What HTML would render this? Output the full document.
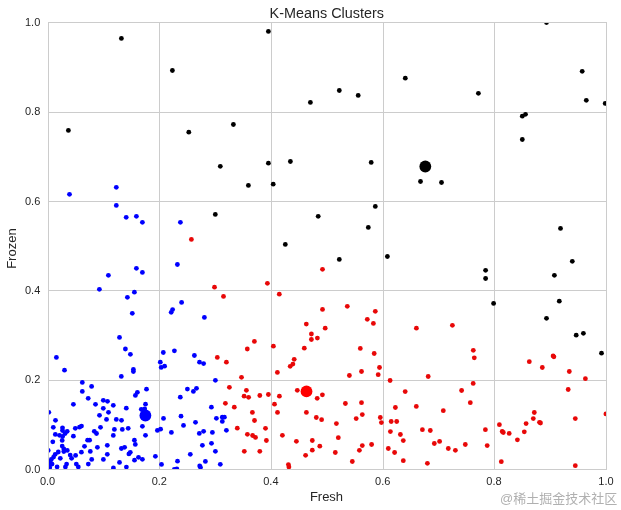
<!DOCTYPE html>
<html><head><meta charset="utf-8"><title>K-Means Clusters</title>
<style>
html,body{margin:0;padding:0;background:#fff;}
body{width:621px;height:510px;overflow:hidden;position:relative;}
svg{position:absolute;left:0;top:0;display:block;will-change:transform;}
text{font-family:"Liberation Sans",Arial,sans-serif;fill:#262626;}
.wm{position:absolute;left:499.8px;top:488px;font:13px "Liberation Sans","Noto Sans CJK SC",sans-serif;color:#b0b0b0;white-space:nowrap;letter-spacing:0px;text-shadow:0 0 1px #fff;will-change:transform;}
</style></head><body>
<svg width="621" height="510" viewBox="0 0 621 510">
<defs><clipPath id="ax"><rect x="48.5" y="22.5" width="558" height="447"/></clipPath></defs>

<g stroke="#cccccc" stroke-width="1" shape-rendering="crispEdges"><line x1="159.5" y1="22.5" x2="159.5" y2="469.5"/><line x1="271.5" y1="22.5" x2="271.5" y2="469.5"/><line x1="383.5" y1="22.5" x2="383.5" y2="469.5"/><line x1="494.5" y1="22.5" x2="494.5" y2="469.5"/><line x1="48.5" y1="112.5" x2="606.5" y2="112.5"/><line x1="48.5" y1="201.5" x2="606.5" y2="201.5"/><line x1="48.5" y1="290.5" x2="606.5" y2="290.5"/><line x1="48.5" y1="380.5" x2="606.5" y2="380.5"/></g>
<g clip-path="url(#ax)"><circle cx="69.5" cy="194.3" r="2.4" fill="#0000ff"/><circle cx="116.3" cy="187.3" r="2.4" fill="#0000ff"/><circle cx="116.3" cy="205.4" r="2.4" fill="#0000ff"/><circle cx="126.2" cy="217.3" r="2.4" fill="#0000ff"/><circle cx="136.4" cy="216.3" r="2.4" fill="#0000ff"/><circle cx="142.4" cy="222.3" r="2.4" fill="#0000ff"/><circle cx="180.4" cy="222.3" r="2.4" fill="#0000ff"/><circle cx="108.4" cy="275.3" r="2.4" fill="#0000ff"/><circle cx="136.4" cy="268.3" r="2.4" fill="#0000ff"/><circle cx="142.4" cy="272.4" r="2.4" fill="#0000ff"/><circle cx="99.4" cy="289.3" r="2.4" fill="#0000ff"/><circle cx="134.4" cy="292.2" r="2.4" fill="#0000ff"/><circle cx="127.4" cy="297.3" r="2.4" fill="#0000ff"/><circle cx="132.3" cy="313.3" r="2.4" fill="#0000ff"/><circle cx="177.4" cy="264.5" r="2.4" fill="#0000ff"/><circle cx="181.6" cy="302.4" r="2.4" fill="#0000ff"/><circle cx="172.6" cy="309.6" r="2.4" fill="#0000ff"/><circle cx="171.2" cy="312.3" r="2.4" fill="#0000ff"/><circle cx="119.5" cy="337.4" r="2.4" fill="#0000ff"/><circle cx="125.4" cy="349.0" r="2.4" fill="#0000ff"/><circle cx="174.4" cy="350.8" r="2.4" fill="#0000ff"/><circle cx="204.4" cy="317.4" r="2.4" fill="#0000ff"/><circle cx="194.4" cy="355.5" r="2.4" fill="#0000ff"/><circle cx="199.5" cy="362.2" r="2.4" fill="#0000ff"/><circle cx="203.6" cy="363.6" r="2.4" fill="#0000ff"/><circle cx="215.4" cy="380.3" r="2.4" fill="#0000ff"/><circle cx="187.4" cy="389.1" r="2.4" fill="#0000ff"/><circle cx="193.4" cy="391.4" r="2.4" fill="#0000ff"/><circle cx="196.5" cy="388.3" r="2.4" fill="#0000ff"/><circle cx="180.3" cy="397.2" r="2.4" fill="#0000ff"/><circle cx="211.4" cy="407.2" r="2.4" fill="#0000ff"/><circle cx="181.0" cy="416.2" r="2.4" fill="#0000ff"/><circle cx="183.5" cy="425.4" r="2.4" fill="#0000ff"/><circle cx="195.5" cy="422.3" r="2.4" fill="#0000ff"/><circle cx="216.4" cy="418.3" r="2.4" fill="#0000ff"/><circle cx="222.3" cy="417.2" r="2.4" fill="#0000ff"/><circle cx="224.4" cy="417.2" r="2.4" fill="#0000ff"/><circle cx="222.3" cy="421.4" r="2.4" fill="#0000ff"/><circle cx="226.4" cy="430.3" r="2.4" fill="#0000ff"/><circle cx="199.3" cy="433.4" r="2.4" fill="#0000ff"/><circle cx="203.6" cy="431.3" r="2.4" fill="#0000ff"/><circle cx="212.4" cy="432.4" r="2.4" fill="#0000ff"/><circle cx="202.4" cy="445.3" r="2.4" fill="#0000ff"/><circle cx="211.5" cy="443.3" r="2.4" fill="#0000ff"/><circle cx="215.4" cy="451.3" r="2.4" fill="#0000ff"/><circle cx="190.3" cy="454.3" r="2.4" fill="#0000ff"/><circle cx="205.4" cy="461.4" r="2.4" fill="#0000ff"/><circle cx="199.7" cy="466.0" r="2.4" fill="#0000ff"/><circle cx="200.5" cy="467.4" r="2.4" fill="#0000ff"/><circle cx="220.3" cy="464.3" r="2.4" fill="#0000ff"/><circle cx="56.4" cy="357.4" r="2.4" fill="#0000ff"/><circle cx="64.5" cy="370.2" r="2.4" fill="#0000ff"/><circle cx="121.3" cy="376.4" r="2.4" fill="#0000ff"/><circle cx="82.3" cy="382.4" r="2.4" fill="#0000ff"/><circle cx="91.6" cy="386.4" r="2.4" fill="#0000ff"/><circle cx="82.3" cy="391.4" r="2.4" fill="#0000ff"/><circle cx="88.2" cy="398.3" r="2.4" fill="#0000ff"/><circle cx="73.4" cy="404.3" r="2.4" fill="#0000ff"/><circle cx="95.5" cy="404.3" r="2.4" fill="#0000ff"/><circle cx="103.3" cy="400.3" r="2.4" fill="#0000ff"/><circle cx="107.5" cy="401.3" r="2.4" fill="#0000ff"/><circle cx="113.3" cy="405.3" r="2.4" fill="#0000ff"/><circle cx="103.3" cy="408.3" r="2.4" fill="#0000ff"/><circle cx="130.4" cy="354.3" r="2.4" fill="#0000ff"/><circle cx="133.4" cy="369.5" r="2.4" fill="#0000ff"/><circle cx="133.4" cy="371.6" r="2.4" fill="#0000ff"/><circle cx="163.3" cy="352.5" r="2.4" fill="#0000ff"/><circle cx="160.3" cy="362.2" r="2.4" fill="#0000ff"/><circle cx="161.2" cy="367.4" r="2.4" fill="#0000ff"/><circle cx="164.6" cy="366.2" r="2.4" fill="#0000ff"/><circle cx="146.5" cy="389.2" r="2.4" fill="#0000ff"/><circle cx="137.4" cy="392.3" r="2.4" fill="#0000ff"/><circle cx="135.4" cy="395.4" r="2.4" fill="#0000ff"/><circle cx="145.5" cy="404.2" r="2.4" fill="#0000ff"/><circle cx="126.3" cy="408.2" r="2.4" fill="#0000ff"/><circle cx="141.3" cy="409.3" r="2.4" fill="#0000ff"/><circle cx="144.7" cy="408.9" r="2.4" fill="#0000ff"/><circle cx="48.8" cy="412.3" r="2.4" fill="#0000ff"/><circle cx="55.5" cy="420.3" r="2.4" fill="#0000ff"/><circle cx="53.3" cy="427.3" r="2.4" fill="#0000ff"/><circle cx="62.5" cy="427.8" r="2.4" fill="#0000ff"/><circle cx="62.5" cy="430.5" r="2.4" fill="#0000ff"/><circle cx="67.2" cy="431.3" r="2.4" fill="#0000ff"/><circle cx="65.1" cy="433.5" r="2.4" fill="#0000ff"/><circle cx="55.3" cy="434.4" r="2.4" fill="#0000ff"/><circle cx="59.5" cy="435.3" r="2.4" fill="#0000ff"/><circle cx="62.6" cy="436.4" r="2.4" fill="#0000ff"/><circle cx="75.3" cy="428.3" r="2.4" fill="#0000ff"/><circle cx="79.5" cy="427.2" r="2.4" fill="#0000ff"/><circle cx="81.5" cy="426.1" r="2.4" fill="#0000ff"/><circle cx="73.4" cy="436.2" r="2.4" fill="#0000ff"/><circle cx="52.8" cy="441.8" r="2.4" fill="#0000ff"/><circle cx="62.2" cy="440.4" r="2.4" fill="#0000ff"/><circle cx="62.2" cy="446.1" r="2.4" fill="#0000ff"/><circle cx="63.8" cy="448.9" r="2.4" fill="#0000ff"/><circle cx="63.8" cy="451.6" r="2.4" fill="#0000ff"/><circle cx="67.3" cy="450.4" r="2.4" fill="#0000ff"/><circle cx="58.3" cy="452.0" r="2.4" fill="#0000ff"/><circle cx="55.2" cy="454.3" r="2.4" fill="#0000ff"/><circle cx="53.6" cy="457.1" r="2.4" fill="#0000ff"/><circle cx="51.3" cy="459.4" r="2.4" fill="#0000ff"/><circle cx="50.1" cy="461.8" r="2.4" fill="#0000ff"/><circle cx="49.7" cy="464.9" r="2.4" fill="#0000ff"/><circle cx="49.7" cy="467.7" r="2.4" fill="#0000ff"/><circle cx="52.1" cy="464.1" r="2.4" fill="#0000ff"/><circle cx="48.2" cy="450.4" r="2.4" fill="#0000ff"/><circle cx="60.3" cy="458.3" r="2.4" fill="#0000ff"/><circle cx="70.2" cy="455.1" r="2.4" fill="#0000ff"/><circle cx="71.6" cy="458.3" r="2.4" fill="#0000ff"/><circle cx="75.6" cy="455.4" r="2.4" fill="#0000ff"/><circle cx="81.4" cy="452.2" r="2.4" fill="#0000ff"/><circle cx="84.5" cy="446.3" r="2.4" fill="#0000ff"/><circle cx="87.6" cy="440.2" r="2.4" fill="#0000ff"/><circle cx="89.6" cy="440.2" r="2.4" fill="#0000ff"/><circle cx="90.3" cy="451.4" r="2.4" fill="#0000ff"/><circle cx="66.6" cy="464.1" r="2.4" fill="#0000ff"/><circle cx="65.4" cy="466.9" r="2.4" fill="#0000ff"/><circle cx="57.1" cy="466.9" r="2.4" fill="#0000ff"/><circle cx="76.3" cy="464.1" r="2.4" fill="#0000ff"/><circle cx="78.3" cy="466.9" r="2.4" fill="#0000ff"/><circle cx="88.3" cy="464.1" r="2.4" fill="#0000ff"/><circle cx="108.5" cy="412.3" r="2.4" fill="#0000ff"/><circle cx="99.5" cy="415.3" r="2.4" fill="#0000ff"/><circle cx="106.5" cy="419.4" r="2.4" fill="#0000ff"/><circle cx="116.3" cy="419.4" r="2.4" fill="#0000ff"/><circle cx="121.5" cy="420.3" r="2.4" fill="#0000ff"/><circle cx="100.5" cy="427.3" r="2.4" fill="#0000ff"/><circle cx="94.3" cy="431.3" r="2.4" fill="#0000ff"/><circle cx="96.5" cy="433.5" r="2.4" fill="#0000ff"/><circle cx="114.4" cy="429.4" r="2.4" fill="#0000ff"/><circle cx="122.3" cy="429.4" r="2.4" fill="#0000ff"/><circle cx="128.2" cy="428.3" r="2.4" fill="#0000ff"/><circle cx="113.3" cy="435.4" r="2.4" fill="#0000ff"/><circle cx="97.4" cy="447.3" r="2.4" fill="#0000ff"/><circle cx="107.3" cy="445.3" r="2.4" fill="#0000ff"/><circle cx="121.4" cy="448.5" r="2.4" fill="#0000ff"/><circle cx="124.6" cy="447.3" r="2.4" fill="#0000ff"/><circle cx="128.9" cy="453.9" r="2.4" fill="#0000ff"/><circle cx="107.3" cy="454.3" r="2.4" fill="#0000ff"/><circle cx="91.7" cy="459.4" r="2.4" fill="#0000ff"/><circle cx="103.4" cy="459.4" r="2.4" fill="#0000ff"/><circle cx="119.5" cy="462.4" r="2.4" fill="#0000ff"/><circle cx="113.4" cy="468.0" r="2.4" fill="#0000ff"/><circle cx="126.4" cy="467.1" r="2.4" fill="#0000ff"/><circle cx="163.5" cy="418.4" r="2.4" fill="#0000ff"/><circle cx="142.4" cy="426.3" r="2.4" fill="#0000ff"/><circle cx="145.5" cy="435.3" r="2.4" fill="#0000ff"/><circle cx="157.4" cy="430.4" r="2.4" fill="#0000ff"/><circle cx="160.6" cy="429.2" r="2.4" fill="#0000ff"/><circle cx="171.4" cy="432.4" r="2.4" fill="#0000ff"/><circle cx="134.4" cy="440.2" r="2.4" fill="#0000ff"/><circle cx="135.3" cy="444.4" r="2.4" fill="#0000ff"/><circle cx="130.3" cy="452.3" r="2.4" fill="#0000ff"/><circle cx="138.5" cy="457.3" r="2.4" fill="#0000ff"/><circle cx="134.5" cy="460.2" r="2.4" fill="#0000ff"/><circle cx="142.4" cy="459.3" r="2.4" fill="#0000ff"/><circle cx="155.4" cy="456.3" r="2.4" fill="#0000ff"/><circle cx="161.5" cy="464.4" r="2.4" fill="#0000ff"/><circle cx="177.5" cy="461.2" r="2.4" fill="#0000ff"/><circle cx="174.3" cy="469.4" r="2.4" fill="#0000ff"/><circle cx="176.8" cy="468.8" r="2.4" fill="#0000ff"/><circle cx="191.4" cy="239.4" r="2.4" fill="#e80808"/><circle cx="322.5" cy="269.3" r="2.4" fill="#e80808"/><circle cx="267.4" cy="283.3" r="2.4" fill="#e80808"/><circle cx="214.5" cy="287.2" r="2.4" fill="#e80808"/><circle cx="223.5" cy="296.4" r="2.4" fill="#e80808"/><circle cx="279.3" cy="294.2" r="2.4" fill="#e80808"/><circle cx="322.5" cy="309.4" r="2.4" fill="#e80808"/><circle cx="306.3" cy="324.1" r="2.4" fill="#e80808"/><circle cx="325.2" cy="328.2" r="2.4" fill="#e80808"/><circle cx="311.4" cy="334.0" r="2.4" fill="#e80808"/><circle cx="311.4" cy="339.5" r="2.4" fill="#e80808"/><circle cx="317.4" cy="338.1" r="2.4" fill="#e80808"/><circle cx="254.4" cy="341.4" r="2.4" fill="#e80808"/><circle cx="273.4" cy="346.2" r="2.4" fill="#e80808"/><circle cx="247.3" cy="349.0" r="2.4" fill="#e80808"/><circle cx="304.3" cy="348.2" r="2.4" fill="#e80808"/><circle cx="347.3" cy="306.3" r="2.4" fill="#e80808"/><circle cx="375.3" cy="311.3" r="2.4" fill="#e80808"/><circle cx="367.3" cy="319.3" r="2.4" fill="#e80808"/><circle cx="373.4" cy="323.4" r="2.4" fill="#e80808"/><circle cx="416.4" cy="328.2" r="2.4" fill="#e80808"/><circle cx="452.4" cy="325.3" r="2.4" fill="#e80808"/><circle cx="360.3" cy="348.4" r="2.4" fill="#e80808"/><circle cx="473.3" cy="350.3" r="2.4" fill="#e80808"/><circle cx="474.3" cy="357.8" r="2.4" fill="#e80808"/><circle cx="529.3" cy="361.7" r="2.4" fill="#e80808"/><circle cx="553.1" cy="355.9" r="2.4" fill="#e80808"/><circle cx="553.9" cy="356.8" r="2.4" fill="#e80808"/><circle cx="542.3" cy="367.5" r="2.4" fill="#e80808"/><circle cx="569.3" cy="371.5" r="2.4" fill="#e80808"/><circle cx="585.4" cy="378.7" r="2.4" fill="#e80808"/><circle cx="473.2" cy="383.4" r="2.4" fill="#e80808"/><circle cx="461.6" cy="390.5" r="2.4" fill="#e80808"/><circle cx="568.2" cy="389.5" r="2.4" fill="#e80808"/><circle cx="470.3" cy="402.7" r="2.4" fill="#e80808"/><circle cx="534.3" cy="412.5" r="2.4" fill="#e80808"/><circle cx="533.3" cy="418.6" r="2.4" fill="#e80808"/><circle cx="539.5" cy="422.3" r="2.4" fill="#e80808"/><circle cx="540.5" cy="423.0" r="2.4" fill="#e80808"/><circle cx="575.3" cy="418.6" r="2.4" fill="#e80808"/><circle cx="605.9" cy="413.9" r="2.4" fill="#e80808"/><circle cx="499.4" cy="424.7" r="2.4" fill="#e80808"/><circle cx="526.1" cy="423.6" r="2.4" fill="#e80808"/><circle cx="502.2" cy="431.5" r="2.4" fill="#e80808"/><circle cx="503.3" cy="432.5" r="2.4" fill="#e80808"/><circle cx="509.2" cy="433.4" r="2.4" fill="#e80808"/><circle cx="524.3" cy="431.8" r="2.4" fill="#e80808"/><circle cx="517.4" cy="439.8" r="2.4" fill="#e80808"/><circle cx="485.4" cy="429.7" r="2.4" fill="#e80808"/><circle cx="465.3" cy="444.5" r="2.4" fill="#e80808"/><circle cx="487.2" cy="445.6" r="2.4" fill="#e80808"/><circle cx="501.3" cy="461.7" r="2.4" fill="#e80808"/><circle cx="575.3" cy="465.7" r="2.4" fill="#e80808"/><circle cx="374.2" cy="353.5" r="2.4" fill="#e80808"/><circle cx="379.5" cy="367.5" r="2.4" fill="#e80808"/><circle cx="361.5" cy="371.5" r="2.4" fill="#e80808"/><circle cx="349.4" cy="375.5" r="2.4" fill="#e80808"/><circle cx="378.2" cy="374.7" r="2.4" fill="#e80808"/><circle cx="390.1" cy="380.5" r="2.4" fill="#e80808"/><circle cx="428.2" cy="376.5" r="2.4" fill="#e80808"/><circle cx="322.4" cy="394.8" r="2.4" fill="#e80808"/><circle cx="405.2" cy="391.6" r="2.4" fill="#e80808"/><circle cx="345.4" cy="403.5" r="2.4" fill="#e80808"/><circle cx="361.5" cy="402.7" r="2.4" fill="#e80808"/><circle cx="395.4" cy="407.5" r="2.4" fill="#e80808"/><circle cx="416.3" cy="406.4" r="2.4" fill="#e80808"/><circle cx="443.3" cy="410.7" r="2.4" fill="#e80808"/><circle cx="321.6" cy="419.7" r="2.4" fill="#e80808"/><circle cx="356.2" cy="418.6" r="2.4" fill="#e80808"/><circle cx="362.3" cy="414.6" r="2.4" fill="#e80808"/><circle cx="336.4" cy="423.6" r="2.4" fill="#e80808"/><circle cx="380.3" cy="417.5" r="2.4" fill="#e80808"/><circle cx="381.4" cy="422.6" r="2.4" fill="#e80808"/><circle cx="391.2" cy="421.5" r="2.4" fill="#e80808"/><circle cx="396.7" cy="421.5" r="2.4" fill="#e80808"/><circle cx="390.4" cy="431.6" r="2.4" fill="#e80808"/><circle cx="400.4" cy="434.5" r="2.4" fill="#e80808"/><circle cx="403.3" cy="440.6" r="2.4" fill="#e80808"/><circle cx="422.4" cy="429.7" r="2.4" fill="#e80808"/><circle cx="430.3" cy="430.5" r="2.4" fill="#e80808"/><circle cx="338.3" cy="437.7" r="2.4" fill="#e80808"/><circle cx="319.8" cy="446.2" r="2.4" fill="#e80808"/><circle cx="362.3" cy="445.6" r="2.4" fill="#e80808"/><circle cx="371.6" cy="444.5" r="2.4" fill="#e80808"/><circle cx="359.4" cy="450.3" r="2.4" fill="#e80808"/><circle cx="335.3" cy="452.5" r="2.4" fill="#e80808"/><circle cx="388.3" cy="448.5" r="2.4" fill="#e80808"/><circle cx="394.6" cy="452.5" r="2.4" fill="#e80808"/><circle cx="434.3" cy="443.5" r="2.4" fill="#e80808"/><circle cx="439.6" cy="441.4" r="2.4" fill="#e80808"/><circle cx="448.3" cy="448.5" r="2.4" fill="#e80808"/><circle cx="455.4" cy="450.3" r="2.4" fill="#e80808"/><circle cx="352.3" cy="461.5" r="2.4" fill="#e80808"/><circle cx="403.3" cy="460.7" r="2.4" fill="#e80808"/><circle cx="427.4" cy="463.3" r="2.4" fill="#e80808"/><circle cx="217.3" cy="357.4" r="2.4" fill="#e80808"/><circle cx="226.4" cy="362.2" r="2.4" fill="#e80808"/><circle cx="241.5" cy="377.3" r="2.4" fill="#e80808"/><circle cx="229.4" cy="387.3" r="2.4" fill="#e80808"/><circle cx="246.4" cy="390.3" r="2.4" fill="#e80808"/><circle cx="244.1" cy="396.2" r="2.4" fill="#e80808"/><circle cx="248.6" cy="397.3" r="2.4" fill="#e80808"/><circle cx="259.8" cy="395.5" r="2.4" fill="#e80808"/><circle cx="225.4" cy="403.3" r="2.4" fill="#e80808"/><circle cx="234.3" cy="407.2" r="2.4" fill="#e80808"/><circle cx="294.2" cy="359.3" r="2.4" fill="#e80808"/><circle cx="290.2" cy="366.3" r="2.4" fill="#e80808"/><circle cx="292.9" cy="364.1" r="2.4" fill="#e80808"/><circle cx="277.4" cy="372.4" r="2.4" fill="#e80808"/><circle cx="297.3" cy="390.3" r="2.4" fill="#e80808"/><circle cx="317.2" cy="398.3" r="2.4" fill="#e80808"/><circle cx="268.4" cy="394.5" r="2.4" fill="#e80808"/><circle cx="279.4" cy="396.2" r="2.4" fill="#e80808"/><circle cx="274.5" cy="404.2" r="2.4" fill="#e80808"/><circle cx="252.4" cy="412.4" r="2.4" fill="#e80808"/><circle cx="254.5" cy="420.5" r="2.4" fill="#e80808"/><circle cx="237.3" cy="428.2" r="2.4" fill="#e80808"/><circle cx="247.4" cy="434.3" r="2.4" fill="#e80808"/><circle cx="252.6" cy="435.5" r="2.4" fill="#e80808"/><circle cx="255.5" cy="437.4" r="2.4" fill="#e80808"/><circle cx="244.3" cy="451.3" r="2.4" fill="#e80808"/><circle cx="259.8" cy="451.3" r="2.4" fill="#e80808"/><circle cx="277.5" cy="412.4" r="2.4" fill="#e80808"/><circle cx="265.5" cy="428.3" r="2.4" fill="#e80808"/><circle cx="266.4" cy="440.5" r="2.4" fill="#e80808"/><circle cx="282.4" cy="435.3" r="2.4" fill="#e80808"/><circle cx="296.4" cy="441.3" r="2.4" fill="#e80808"/><circle cx="306.4" cy="412.4" r="2.4" fill="#e80808"/><circle cx="316.3" cy="417.5" r="2.4" fill="#e80808"/><circle cx="312.3" cy="440.5" r="2.4" fill="#e80808"/><circle cx="312.3" cy="450.2" r="2.4" fill="#e80808"/><circle cx="305.6" cy="455.3" r="2.4" fill="#e80808"/><circle cx="288.4" cy="464.6" r="2.4" fill="#e80808"/><circle cx="288.9" cy="467.0" r="2.4" fill="#e80808"/><circle cx="121.4" cy="38.4" r="2.4" fill="#000000"/><circle cx="172.4" cy="70.5" r="2.4" fill="#000000"/><circle cx="68.4" cy="130.4" r="2.4" fill="#000000"/><circle cx="188.8" cy="132.2" r="2.4" fill="#000000"/><circle cx="268.4" cy="31.4" r="2.4" fill="#000000"/><circle cx="310.4" cy="102.4" r="2.4" fill="#000000"/><circle cx="233.4" cy="124.5" r="2.4" fill="#000000"/><circle cx="339.3" cy="90.5" r="2.4" fill="#000000"/><circle cx="358.2" cy="95.4" r="2.4" fill="#000000"/><circle cx="405.3" cy="78.2" r="2.4" fill="#000000"/><circle cx="546.5" cy="22.6" r="2.4" fill="#000000"/><circle cx="582.2" cy="71.3" r="2.4" fill="#000000"/><circle cx="478.4" cy="93.3" r="2.4" fill="#000000"/><circle cx="586.3" cy="100.3" r="2.4" fill="#000000"/><circle cx="605.2" cy="103.4" r="2.4" fill="#000000"/><circle cx="522.3" cy="116.2" r="2.4" fill="#000000"/><circle cx="525.5" cy="114.3" r="2.4" fill="#000000"/><circle cx="220.3" cy="166.3" r="2.4" fill="#000000"/><circle cx="268.4" cy="163.2" r="2.4" fill="#000000"/><circle cx="290.4" cy="161.5" r="2.4" fill="#000000"/><circle cx="248.4" cy="185.4" r="2.4" fill="#000000"/><circle cx="273.2" cy="184.2" r="2.4" fill="#000000"/><circle cx="215.3" cy="214.4" r="2.4" fill="#000000"/><circle cx="318.2" cy="216.3" r="2.4" fill="#000000"/><circle cx="371.2" cy="162.4" r="2.4" fill="#000000"/><circle cx="420.5" cy="181.5" r="2.4" fill="#000000"/><circle cx="441.5" cy="182.5" r="2.4" fill="#000000"/><circle cx="375.3" cy="206.4" r="2.4" fill="#000000"/><circle cx="368.3" cy="227.4" r="2.4" fill="#000000"/><circle cx="522.3" cy="139.5" r="2.4" fill="#000000"/><circle cx="560.5" cy="228.4" r="2.4" fill="#000000"/><circle cx="285.3" cy="244.4" r="2.4" fill="#000000"/><circle cx="339.3" cy="259.4" r="2.4" fill="#000000"/><circle cx="387.4" cy="256.5" r="2.4" fill="#000000"/><circle cx="485.6" cy="270.3" r="2.4" fill="#000000"/><circle cx="485.6" cy="278.5" r="2.4" fill="#000000"/><circle cx="572.3" cy="261.3" r="2.4" fill="#000000"/><circle cx="554.4" cy="275.3" r="2.4" fill="#000000"/><circle cx="493.6" cy="303.4" r="2.4" fill="#000000"/><circle cx="559.3" cy="301.2" r="2.4" fill="#000000"/><circle cx="546.5" cy="318.3" r="2.4" fill="#000000"/><circle cx="576.2" cy="335.2" r="2.4" fill="#000000"/><circle cx="583.4" cy="333.3" r="2.4" fill="#000000"/><circle cx="601.5" cy="353.2" r="2.4" fill="#000000"/><circle cx="425.3" cy="166.5" r="5.9" fill="#000000"/><circle cx="145.4" cy="415.5" r="5.9" fill="#0000ff"/><circle cx="306.5" cy="391.4" r="5.9" fill="#ff0000"/></g>
<rect x="48.5" y="22.5" width="558" height="447" fill="none" stroke="#cccccc" stroke-width="1" shape-rendering="crispEdges"/>
<text x="40.3" y="25.95" text-anchor="end" font-size="11">1.0</text><text x="40.3" y="114.95" text-anchor="end" font-size="11">0.8</text><text x="40.3" y="204.95" text-anchor="end" font-size="11">0.6</text><text x="40.3" y="293.85" text-anchor="end" font-size="11">0.4</text><text x="40.3" y="382.75" text-anchor="end" font-size="11">0.2</text><text x="40.3" y="472.75" text-anchor="end" font-size="11">0.0</text><text x="47.6" y="484.8" text-anchor="middle" font-size="11">0.0</text><text x="159.3" y="484.8" text-anchor="middle" font-size="11">0.2</text><text x="270.9" y="484.8" text-anchor="middle" font-size="11">0.4</text><text x="382.7" y="484.8" text-anchor="middle" font-size="11">0.6</text><text x="494.0" y="484.8" text-anchor="middle" font-size="11">0.8</text><text x="606.0" y="484.8" text-anchor="middle" font-size="11">1.0</text>
<text x="326.8" y="18.2" text-anchor="middle" font-size="15.2" textLength="114.36" lengthAdjust="spacingAndGlyphs">K-Means Clusters</text>
<text x="326.5" y="501.2" text-anchor="middle" font-size="13.6" textLength="33.23" lengthAdjust="spacingAndGlyphs">Fresh</text>
<text transform="translate(16.1 248.6) rotate(-90)" text-anchor="middle" font-size="13.6" textLength="40.47" lengthAdjust="spacingAndGlyphs">Frozen</text>
</svg>
<div class="wm">@稀土掘金技术社区</div>
</body></html>
